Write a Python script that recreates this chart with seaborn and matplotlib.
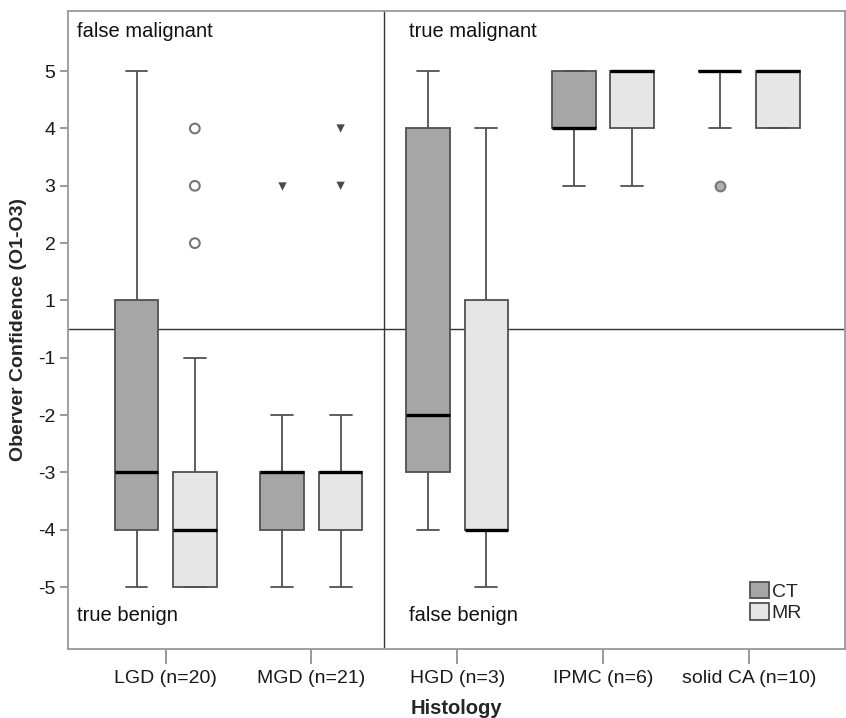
import numpy as np
import pandas as pd
import matplotlib
matplotlib.use("Agg")
import matplotlib.pyplot as plt
import seaborn as sns

# ---------------- data ----------------
categories = ["LGD (n=20)", "MGD (n=21)", "HGD (n=3)", "IPMC (n=6)", "solid CA (n=10)"]
modalities = ["CT", "MR"]

# box statistics per category: whisker low, Q1, median, Q3, whisker high
ct_low = [-5, -5, -4, 3, 4]
ct_q1 = [-4, -4, -3, 4, 5]
ct_med = [-3, -3, -2, 4, 5]
ct_q3 = [1, -3, 4, 5, 5]
ct_high = [5, -2, 5, 5, 5]

mr_low = [-5, -5, -5, 3, 4]
mr_q1 = [-5, -4, -4, 4, 4]
mr_med = [-4, -3, -4, 5, 5]
mr_q3 = [-3, -3, 1, 5, 5]
mr_high = [-1, -2, 4, 5, 5]

# outliers (circles) and extremes (stars)
outlier_cat = ["LGD (n=20)", "LGD (n=20)", "LGD (n=20)", "solid CA (n=10)"]
outlier_mod = ["MR", "MR", "MR", "CT"]
outlier_val = [2, 3, 4, 3]

extreme_cat = ["MGD (n=21)", "MGD (n=21)", "MGD (n=21)"]
extreme_mod = ["CT", "MR", "MR"]
extreme_val = [3, 3, 4]

ytick_values = [5, 4, 3, 2, 1, -1, -2, -3, -4, -5]


def to_pos(v):
    # the scale has no 0: scores are placed on evenly spaced ordinal slots
    v = np.asarray(v, dtype=float)
    return v - 0.5 * np.sign(v)


rows = []
for i, c in enumerate(categories):
    for m, stats in (("CT", (ct_low, ct_q1, ct_med, ct_q3, ct_high)),
                     ("MR", (mr_low, mr_q1, mr_med, mr_q3, mr_high))):
        for s in stats:
            rows.append({"Histology": c, "Modality": m, "score": s[i]})
box_df = pd.DataFrame(rows)
box_df["pos"] = to_pos(box_df["score"])

out_df = pd.DataFrame({"Histology": outlier_cat, "Modality": outlier_mod, "score": outlier_val})
out_df["pos"] = to_pos(out_df["score"])
ext_df = pd.DataFrame({"Histology": extreme_cat, "Modality": extreme_mod, "score": extreme_val})
ext_df["pos"] = to_pos(ext_df["score"])

# ---------------- plot ----------------
sns.set_theme(style="white")
plt.rcParams["font.family"] = ["Liberation Sans", "DejaVu Sans"]

fig = plt.figure(figsize=(8.46, 7.18), dpi=100)
ax = fig.add_axes([0.0804, 0.0961, 0.9184, 0.8886])

palette = {"CT": "#a6a6a6", "MR": "#e6e6e6"}
edge = "#505050"

sns.boxplot(data=box_df, x="Histology", y="pos", hue="Modality",
            order=categories, hue_order=modalities, palette=palette,
            saturation=1, width=0.8, gap=0.25, whis=(0, 100),
            linecolor=edge, linewidth=1.3, showfliers=False,
            medianprops=dict(color="black", linewidth=2.4),
            ax=ax)

sns.stripplot(data=out_df, x="Histology", y="pos", hue="Modality",
              order=categories, hue_order=modalities,
              palette={"CT": "#b0b0b0", "MR": "white"},
              dodge=True, jitter=False, marker="o", size=7,
              edgecolor="#777777", linewidth=1.5, legend=False, ax=ax)

sns.stripplot(data=ext_df, x="Histology", y="pos", hue="Modality",
              order=categories, hue_order=modalities,
              palette={"CT": "#4a4a4a", "MR": "#4a4a4a"},
              dodge=True, jitter=False, marker="v", size=6,
              linewidth=0, legend=False, ax=ax)

# reference lines
ax.axhline(0, color="#333333", linewidth=1.0, zorder=0.5)
ax.axvline(1.5, color="#333333", linewidth=1.0, zorder=0.5)

ax.set_xlim(-0.67, 4.66)
ax.set_ylim(-5.58, 5.55)
ax.set_yticks(to_pos(ytick_values))
ax.set_yticklabels([str(v) for v in ytick_values])

ax.tick_params(axis="y", which="major", left=True, length=6, width=1.2,
               color="#888888", labelsize=14, pad=3, labelcolor="#1a1a1a")
ax.tick_params(axis="x", which="major", bottom=True, length=11, width=1.2,
               color="#888888", labelsize=14, pad=4, labelcolor="#1a1a1a")

for sp in ax.spines.values():
    sp.set_visible(True)
    sp.set_color("#999999")
    sp.set_linewidth(1.3)

ax.set_xlabel("Histology", fontsize=14.5, fontweight="bold", labelpad=9)
ax.set_ylabel("Oberver Confidence (O1-O3)", fontsize=14, fontweight="bold", labelpad=8)

# quadrant labels
qkw = dict(fontsize=14.5, va="center", ha="left", color="#111111")
ax.text(-0.61, 5.2, "false malignant", **qkw)
ax.text(1.67, 5.2, "true malignant", **qkw)
ax.text(-0.61, -5.0, "true benign", **qkw)
ax.text(1.67, -5.0, "false benign", **qkw)

sns.move_legend(ax, "lower left", bbox_to_anchor=(0.868, 0.03), frameon=False,
                title=None, fontsize=14, handlelength=0.95, handleheight=0.95,
                handletextpad=0.15, labelspacing=0.12, borderaxespad=0)

fig.savefig("out.png", dpi=100)
